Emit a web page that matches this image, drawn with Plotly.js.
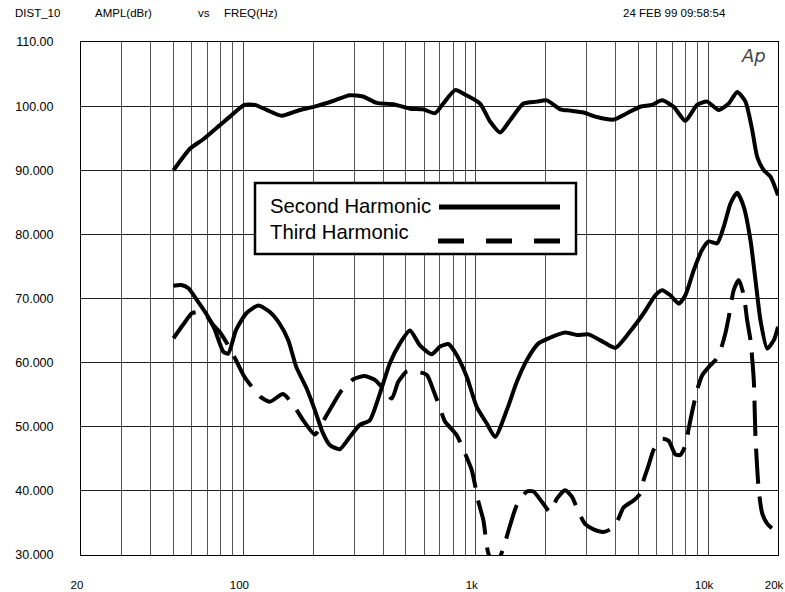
<!DOCTYPE html>
<html>
<head>
<meta charset="utf-8">
<script src="https://cdn.plot.ly/plotly-3.0.1.min.js"></script>
<style>
  html, body { margin: 0; padding: 0; background: #ffffff; }
  #chart { width: 785px; height: 592px; }
</style>
</head>
<body>
<div id="chart"></div>
<script>
// ---------- data ----------
const fundFreq = [50, 59, 67, 79, 89, 101, 112, 126, 146, 175, 206, 243, 287, 327, 375, 442, 521, 593, 668, 725, 815, 911, 1044, 1153, 1274, 1406, 1605, 1832, 2024, 2310, 2551, 2911, 3324, 3920, 4477, 5110, 5741, 6340, 7112, 7986, 8970, 9906, 11112, 12274, 13344, 14488, 15484, 16270, 17370, 18566, 20000];
const fundDb   = [90.0, 93.4, 94.8, 97.0, 98.6, 100.2, 100.2, 99.4, 98.5, 99.4, 100.0, 100.8, 101.7, 101.5, 100.5, 100.3, 99.6, 99.5, 98.9, 100.4, 102.5, 101.7, 100.4, 97.6, 95.9, 97.8, 100.4, 100.7, 100.9, 99.5, 99.3, 99.0, 98.3, 97.9, 98.9, 99.9, 100.2, 100.9, 99.9, 97.7, 100.2, 100.7, 99.4, 100.4, 102.2, 100.7, 96.3, 92.1, 90.0, 89.0, 86.1];

const h2Freq = [50, 54, 58, 63, 69, 75, 82, 86, 93, 103, 116, 130, 143, 156, 169, 187, 203, 220, 236, 260, 287, 317, 350, 387, 427, 472, 521, 575, 646, 702, 762, 828, 915, 1010, 1116, 1212, 1361, 1503, 1660, 1862, 2092, 2427, 2727, 3058, 3550, 3987, 4626, 5281, 5929, 6340, 6882, 7472, 7986, 8675, 9428, 10062, 10937, 11680, 12484, 13344, 14246, 15224, 15996, 16812, 17966, 19188, 20000];
const h2Db   = [72.0, 72.1, 71.6, 69.8, 67.7, 65.3, 61.7, 61.4, 65.1, 67.7, 68.9, 67.9, 66.1, 63.5, 59.3, 56.0, 52.6, 49.0, 47.1, 46.5, 48.4, 50.3, 51.0, 55.2, 59.9, 63.0, 65.0, 62.7, 61.3, 62.5, 62.9, 61.2, 57.8, 53.1, 50.5, 48.4, 52.6, 57.0, 60.4, 63.0, 63.9, 64.7, 64.3, 64.4, 63.2, 62.3, 64.9, 67.7, 70.5, 71.3, 70.5, 69.2, 70.5, 74.4, 77.6, 78.9, 78.6, 81.2, 84.8, 86.5, 84.3, 79.1, 72.9, 66.6, 62.2, 63.5, 65.6];

const h3Freq = [50, 55, 60, 65, 69, 74, 79, 85, 90, 101, 110, 118, 130, 148, 164, 181, 203, 220, 265, 297, 333, 368, 394, 435, 464, 504, 539, 615, 657, 702, 738, 828, 900, 962, 1027, 1079, 1134, 1212, 1274, 1338, 1503, 1660, 1772, 1926, 2092, 2236, 2427, 2594, 2770, 2960, 3214, 3550, 3793, 4054, 4329, 4780, 5110, 5281, 5548, 5830, 6340, 6766, 7230, 7598, 7986, 8252, 8536, 8970, 9428, 10234, 10756, 11304, 11878, 12274, 12900, 13552, 14246, 14731, 15224, 15731, 15996, 16530, 17100, 17966, 19188, 20000];
const h3Db   = [63.8, 65.9, 67.7, 67.9, 67.4, 65.9, 64.8, 63.0, 61.4, 57.8, 56.0, 54.7, 53.9, 55.1, 53.4, 51.0, 48.8, 50.8, 55.7, 57.4, 57.9, 57.3, 56.2, 54.4, 57.0, 58.6, 58.7, 58.1, 55.7, 52.9, 50.8, 48.7, 45.8, 43.2, 38.3, 35.4, 30.2, 28.5, 29.7, 32.0, 37.8, 39.9, 39.9, 38.3, 36.7, 38.8, 40.1, 39.1, 36.7, 34.8, 34.0, 33.6, 34.0, 35.2, 37.4, 38.5, 39.6, 41.7, 44.0, 46.4, 48.1, 47.8, 45.7, 45.6, 47.1, 49.7, 52.3, 55.7, 58.0, 59.6, 60.4, 61.9, 64.6, 67.1, 71.3, 72.9, 70.5, 66.6, 63.5, 57.3, 48.4, 40.1, 36.5, 34.9, 33.9, 33.3];

const xTickVals = [20, 100, 1000, 10000, 20000];
const xTickText = ['20', '100', '1k', '10k', '20k'];
const yTickVals = [30, 40, 50, 60, 70, 80, 90, 100, 110];
const yTickText = ['30.000', '40.000', '50.000', '60.000', '70.000', '80.000', '90.000', '100.00', '110.00'];

const headerTexts = ['DIST_10', 'AMPL(dBr)', 'vs', 'FREQ(Hz)', '24 FEB 99 09:58:54'];
const legendNames = ['Second Harmonic', 'Third Harmonic'];

// ---------- layout helpers ----------
const W = 785, H = 592;
const M = { l: 81, r: 7, t: 42, b: 37 };
const PW = W - M.l - M.r, PH = H - M.t - M.b;
const px = x => (x - M.l) / PW;        // pixel x -> paper
const py = y => (H - M.b - y) / PH;     // pixel y -> paper

// minor grid lines at every integer multiple inside each decade
const minorGrid = [];
for (let dec = 10; dec <= 10000; dec *= 10) {
  for (let m = 1; m <= 9; m++) {
    const v = dec * m;
    if (v > 20 && v < 20000 && xTickVals.indexOf(v) < 0) minorGrid.push(v);
  }
}

const FONT = 'Liberation Sans, Arial, Helvetica, sans-serif';
const lineStyle = { color: '#000000', width: 4, shape: 'spline', smoothing: 0.6 };

const traces = [
  { x: fundFreq, y: fundDb, type: 'scatter', mode: 'lines', line: lineStyle, showlegend: false, hoverinfo: 'skip' },
  { x: h2Freq, y: h2Db, type: 'scatter', mode: 'lines', name: legendNames[0], line: lineStyle, showlegend: false, hoverinfo: 'skip' },
  { x: h3Freq, y: h3Db, type: 'scatter', mode: 'lines', name: legendNames[1],
    line: Object.assign({}, lineStyle, { dash: '35px,13px' }), showlegend: false, hoverinfo: 'skip' }
];

const headerX = [13, 93, 196, 222, 621];
const annotations = headerTexts.map((t, i) => ({
  text: t, xref: 'paper', yref: 'paper', x: px(headerX[i]), y: py(13),
  xanchor: 'left', yanchor: 'middle', showarrow: false,
  font: { family: FONT, size: 11.5, color: '#000' }
}));
annotations.push(
  { text: legendNames[0], xref: 'paper', yref: 'paper', x: px(268), y: py(206),
    xanchor: 'left', yanchor: 'middle', showarrow: false,
    font: { family: FONT, size: 20.3, color: '#000' } },
  { text: legendNames[1], xref: 'paper', yref: 'paper', x: px(268), y: py(232),
    xanchor: 'left', yanchor: 'middle', showarrow: false,
    font: { family: FONT, size: 20.3, color: '#000' } },
  { text: '<i>Ap</i>', xref: 'paper', yref: 'paper', x: px(739), y: py(55),
    xanchor: 'left', yanchor: 'middle', showarrow: false,
    font: { family: 'DejaVu Sans, sans-serif', size: 18, color: '#444', weight: 200 } }
);

const shapes = [
  { type: 'rect', xref: 'paper', yref: 'paper', x0: px(255), x1: px(576), y0: py(254), y1: py(183),
    line: { color: '#000', width: 2.5 }, fillcolor: '#ffffff', layer: 'above' },
  { type: 'line', xref: 'paper', yref: 'paper', x0: px(439), x1: px(560), y0: py(207), y1: py(207),
    line: { color: '#000', width: 5 }, layer: 'above' },
  { type: 'line', xref: 'paper', yref: 'paper', x0: px(438), x1: px(562), y0: py(241), y1: py(241),
    line: { color: '#000', width: 5, dash: '26px,22px' }, layer: 'above' }
];

const layout = {
  width: W, height: H,
  margin: M,
  paper_bgcolor: '#ffffff', plot_bgcolor: '#ffffff',
  showlegend: false,
  font: { family: FONT, size: 11, color: '#000' },
  xaxis: {
    type: 'log', range: [Math.log10(20), Math.log10(20000)],
    tickmode: 'array', tickvals: xTickVals, ticktext: xTickText,
    ticks: '', showgrid: true, gridcolor: '#444', gridwidth: 1,
    minor: { tickmode: 'array', tickvals: minorGrid, showgrid: true, gridcolor: '#555', gridwidth: 1, ticks: '' },
    showline: true, linecolor: '#000', linewidth: 1, mirror: true,
    zeroline: false, ticklabelstandoff: 19, ticklabelshift: -4,
    tickfont: { family: FONT, size: 11.5, color: '#000' }
  },
  yaxis: {
    range: [30, 110], tickmode: 'array', tickvals: yTickVals, ticktext: yTickText,
    ticks: '', showgrid: true, gridcolor: '#222', gridwidth: 1,
    showline: true, linecolor: '#000', linewidth: 1, mirror: true,
    zeroline: false, ticklabelstandoff: 24,
    tickfont: { family: FONT, size: 12.5, color: '#000' }
  },
  annotations: annotations,
  shapes: shapes
};

Plotly.newPlot('chart', traces, layout, { staticPlot: true, displayModeBar: false });
</script>
</body>
</html>
